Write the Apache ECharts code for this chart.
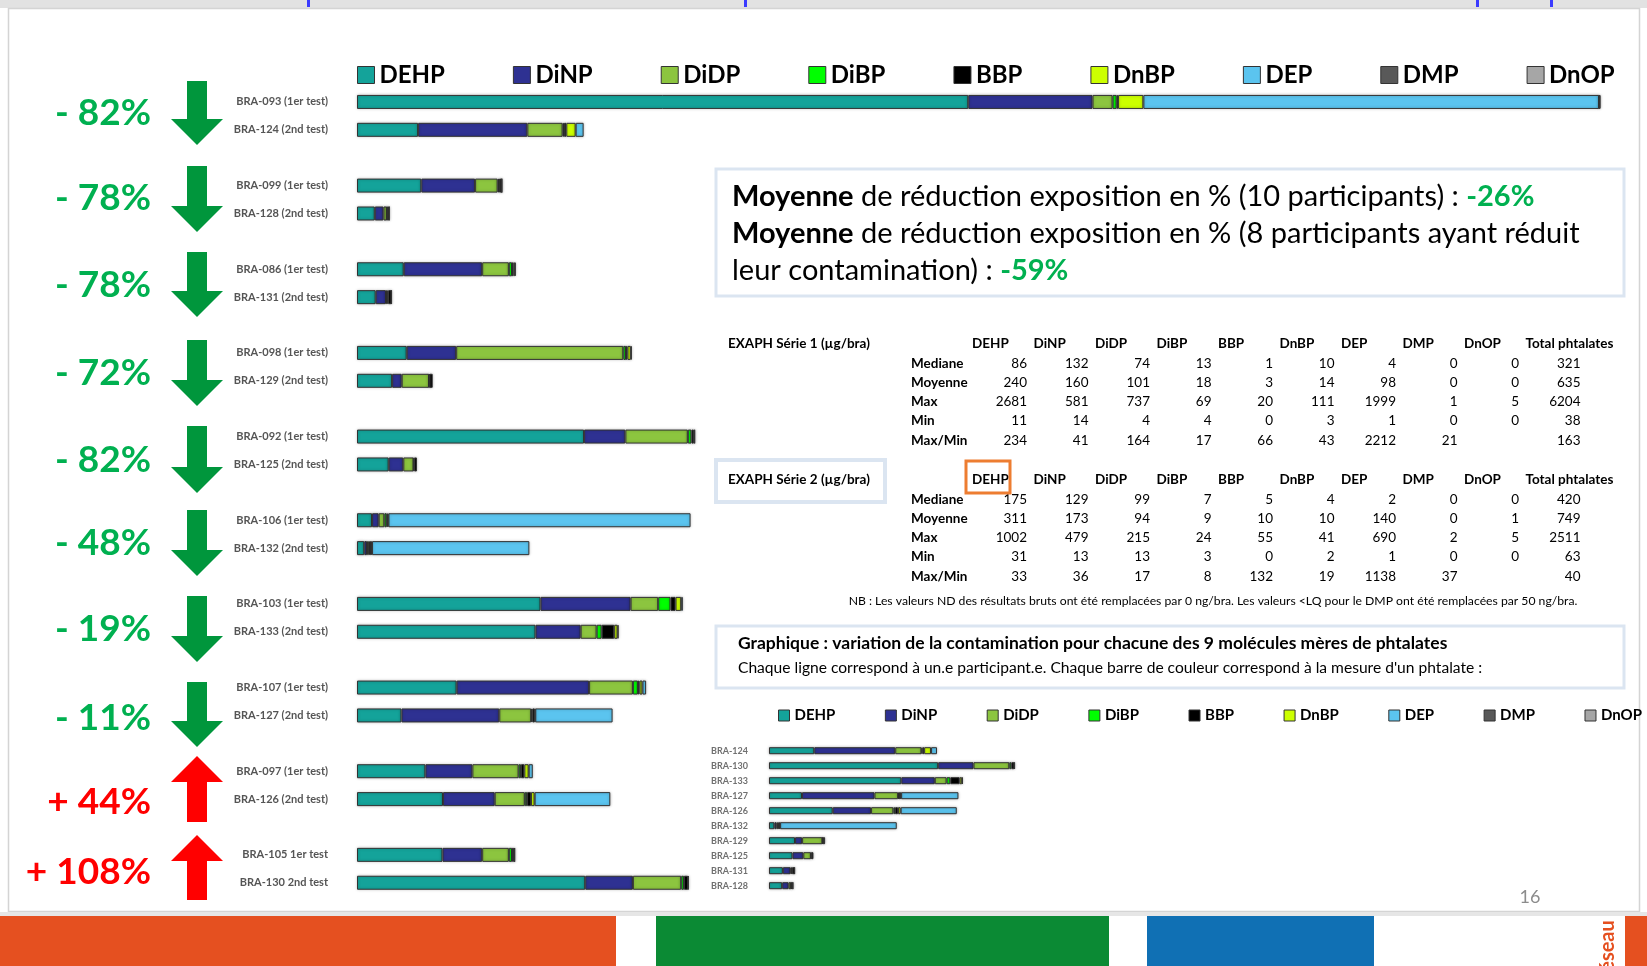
<!DOCTYPE html>
<html>
<head>
<meta charset="utf-8">
<script src="https://cdn.jsdelivr.net/npm/echarts@6/dist/echarts.min.js"></script>
<style>
  html, body { margin: 0; padding: 0; background: #ffffff; }
  #chart { width: 1647px; height: 966px; }
</style>
</head>
<body>
<div id="chart"></div>
<script>
// ---- Phthalates measured on each bracelet (µg/bra) ----
const PHTHALATES = ['DEHP', 'DiNP', 'DiDP', 'DiBP', 'BBP', 'DnBP', 'DEP', 'DMP', 'DnOP'];

// participants: first and second bracelet test, same order
const firstTestIds  = ['BRA-093 (1er test)', 'BRA-099 (1er test)', 'BRA-086 (1er test)', 'BRA-098 (1er test)', 'BRA-092 (1er test)',
                       'BRA-106 (1er test)', 'BRA-103 (1er test)', 'BRA-107 (1er test)', 'BRA-097 (1er test)', 'BRA-105 1er test'];
const secondTestIds = ['BRA-124 (2nd test)', 'BRA-128 (2nd test)', 'BRA-131 (2nd test)', 'BRA-129 (2nd test)', 'BRA-125 (2nd test)',
                       'BRA-132 (2nd test)', 'BRA-133 (2nd test)', 'BRA-127 (2nd test)', 'BRA-126 (2nd test)', 'BRA-130 2nd test'];
const changeLabels  = ['- 82%', '- 78%', '- 78%', '- 72%', '- 82%', '- 48%', '- 19%', '- 11%', '+ 44%', '+ 108%'];

// first test
const DEHP_1 = [2681, 282, 205, 218, 996, 66, 805, 437, 300, 375];
const DiNP_1 = [545, 236, 344, 217, 181, 29, 395, 581, 206, 174];
const DiDP_1 = [88, 99, 117, 733, 274, 25, 121, 192, 203, 117];
const DiBP_1 = [18, 6, 14, 12, 16, 10, 54, 22, 10, 14];
const BBP_1  = [6, 10, 6, 6, 10, 4, 22, 7, 15, 8];
const DnBP_1 = [111, 2, 6, 15, 3, 4, 25, 13, 19, 3];
const DEP_1  = [1999, 1, 4, 4, 2, 1325, 7, 16, 18, 1];
const DMP_1  = [1, 0, 0, 0, 0, 0, 0, 0, 0, 0];
const DnOP_1 = [5, 0, 0, 0, 0, 0, 0, 0, 0, 0];

// second test
const DEHP_2 = [268, 78, 82, 154, 139, 32, 783, 195, 377, 1001];
const DiNP_2 = [479, 38, 45, 42, 64, 12, 198, 429, 227, 209];
const DiDP_2 = [155, 15, 6, 120, 45, 8, 70, 140, 132, 212];
const DiBP_2 = [6, 2, 4, 2, 3, 5, 22, 5, 10, 12];
const BBP_2  = [10, 8, 14, 14, 12, 6, 55, 10, 17, 18];
const DnBP_2 = [41, 1, 1, 0, 0, 3, 15, 3, 16, 0];
const DEP_2  = [35, 0, 0, 0, 0, 690, 4, 339, 332, 0];
const DMP_2  = [0, 0, 0, 0, 0, 0, 0, 0, 0, 2];
const DnOP_2 = [0, 0, 0, 0, 0, 0, 0, 0, 0, 0];

// second-test participants, ranked as in the small chart
const rankedIds = ['BRA-124', 'BRA-130', 'BRA-133', 'BRA-127', 'BRA-126', 'BRA-132', 'BRA-129', 'BRA-125', 'BRA-131', 'BRA-128'];

// summary tables
const tableCols = ['DEHP', 'DiNP', 'DiDP', 'DiBP', 'BBP', 'DnBP', 'DEP', 'DMP', 'DnOP', 'Total phtalates'];
const tableRows = ['Mediane', 'Moyenne', 'Max', 'Min', 'Max/Min'];
const serie1Mediane = [86, 132, 74, 13, 1, 10, 4, 0, 0, 321];
const serie1Moyenne = [240, 160, 101, 18, 3, 14, 98, 0, 0, 635];
const serie1Max     = [2681, 581, 737, 69, 20, 111, 1999, 1, 5, 6204];
const serie1Min     = [11, 14, 4, 4, 0, 3, 1, 0, 0, 38];
const serie1MaxMin  = [234, 41, 164, 17, 66, 43, 2212, 21, '', 163];
const serie2Mediane = [175, 129, 99, 7, 5, 4, 2, 0, 0, 420];
const serie2Moyenne = [311, 173, 94, 9, 10, 10, 140, 0, 1, 749];
const serie2Max     = [1002, 479, 215, 24, 55, 41, 690, 2, 5, 2511];
const serie2Min     = [31, 13, 13, 3, 0, 2, 1, 0, 0, 63];
const serie2MaxMin  = [33, 36, 17, 8, 132, 19, 1138, 37, '', 40];

// ---- styling ----
const COLORS = {
  DEHP: '#14A39A', DiNP: '#2E3192', DiDP: '#8CC53F', DiBP: '#00FF00', BBP: '#000000',
  DnBP: '#CCFF00', DEP: '#5BC4EF', DMP: '#595959', DnOP: '#A6A6A6'
};
const FONT = 'Lato, "Open Sans", "DejaVu Sans", sans-serif';
const GREEN = '#00B050';
const RED = '#FF0000';
const ARROW_GREEN = '#00963C';

const FIRST  = { DEHP: DEHP_1, DiNP: DiNP_1, DiDP: DiDP_1, DiBP: DiBP_1, BBP: BBP_1, DnBP: DnBP_1, DEP: DEP_1, DMP: DMP_1, DnOP: DnOP_1 };
const SECOND = { DEHP: DEHP_2, DiNP: DiNP_2, DiDP: DiDP_2, DiBP: DiBP_2, BBP: BBP_2, DnBP: DnBP_2, DEP: DEP_2, DMP: DMP_2, DnOP: DnOP_2 };

// left chart categories: pairs of tests with an empty slot between pairs
const leftCats = [];
const leftRefs = [];
firstTestIds.forEach((id, i) => {
  leftCats.push(id); leftRefs.push({ set: FIRST, i });
  leftCats.push(secondTestIds[i]); leftRefs.push({ set: SECOND, i });
  if (i < firstTestIds.length - 1) { leftCats.push(''); leftRefs.push(null); }
});
const rankedRefs = rankedIds.map(id => secondTestIds.findIndex(s => s.indexOf(id) === 0));

const show = v => (v === 0 ? '-' : v);

const series = [];
PHTHALATES.forEach(p => {
  const itemStyle = { color: COLORS[p], borderColor: '#333333', borderWidth: 1,
                      shadowColor: 'rgba(0,0,0,0.28)', shadowBlur: 3 };
  series.push({
    type: 'bar', name: p, stack: 'tests', xAxisIndex: 0, yAxisIndex: 0, barWidth: 14,
    itemStyle, emphasis: { disabled: true },
    data: leftRefs.map(r => (r ? show(r.set[p][r.i]) : '-'))
  });
  series.push({
    type: 'bar', name: p, stack: 'ranked', xAxisIndex: 1, yAxisIndex: 1, barWidth: 7,
    itemStyle, emphasis: { disabled: true },
    data: rankedRefs.map(i => show(SECOND[p][i]))
  });
});

// ---- decoration and text ----
const g = [];
const txt = (x, y, text, o = {}) => g.push({
  type: 'text', x, y, silent: true,
  style: Object.assign({
    text, fill: '#000', fontFamily: FONT, fontSize: 14, fontWeight: 'normal',
    align: 'left', textAlign: 'left', verticalAlign: 'middle', textVerticalAlign: 'middle'
  }, o)
});
const rect = (x, y, w, h, style) => g.push({ type: 'rect', silent: true, shape: { x, y, width: w, height: h }, style });

// slide frame, header strip and footer bands
rect(0, 0, 1647, 8, { fill: '#e2e2e2' });
[[307, 3], [744, 3], [1476, 3], [1550, 3]].forEach(([x, w]) => rect(x, 0, w, 7, { fill: '#3b3bff' }));
rect(8.5, 8.5, 1631, 903, { fill: 'none', stroke: '#d4d4d4', lineWidth: 1.5 });
rect(0, 912, 1647, 4, { fill: '#e6e6e6' });
rect(0, 916, 616, 50, { fill: '#E55020' });
rect(656, 916, 453, 50, { fill: '#0B8A34' });
rect(1147, 916, 227, 50, { fill: '#1070B4' });
rect(1625, 916, 22, 50, { fill: '#E55020' });
g.push({ type: 'text', x: 1608, y: 946, rotation: Math.PI / 2, silent: true,
  style: { text: 'éseau', fill: '#E55020', fontFamily: FONT, fontSize: 20, fontWeight: 'bold',
           align: 'center', textAlign: 'center', verticalAlign: 'middle', textVerticalAlign: 'middle' } });
txt(1530, 897, '16', { fill: '#8c8c8c', fontSize: 18, align: 'center', textAlign: 'center' });

// change labels and arrows beside each pair
const changeY = [113, 198, 285, 373, 460, 543, 629, 718, 802, 872];
const arrowSpan = [[81, 145], [166, 232], [252, 317], [340, 406], [426, 493], [510, 576], [596, 662], [682, 747], [756, 822], [835, 900]];
const ARROW_X = 197;
changeLabels.forEach((lab, i) => {
  const up = lab.charAt(0) === '+';
  txt(151, changeY[i], lab, { fill: up ? RED : GREEN, fontSize: 37, fontWeight: 'bold', align: 'right', textAlign: 'right' });
  const [t, b] = arrowSpan[i];
  const cx = ARROW_X, sw = 10, hw = 26, hh = 26;
  const pts = up
    ? [[cx, t], [cx + hw, t + hh], [cx + sw, t + hh], [cx + sw, b], [cx - sw, b], [cx - sw, t + hh], [cx - hw, t + hh]]
    : [[cx - sw, t], [cx + sw, t], [cx + sw, b - hh], [cx + hw, b - hh], [cx, b], [cx - hw, b - hh], [cx - sw, b - hh]];
  g.push({ type: 'polygon', silent: true, shape: { points: pts }, style: { fill: up ? RED : ARROW_GREEN } });
});

// average reduction box
rect(716, 169, 908, 127, { fill: '#ffffff', stroke: '#dbe5f1', lineWidth: 3 });
const MEAN_SIZE = 29;
const richMean = { b: { fontWeight: 'bold', fontSize: MEAN_SIZE, fontFamily: FONT, fill: '#000' },
                   g: { fontWeight: 'bold', fontSize: MEAN_SIZE, fontFamily: FONT, fill: GREEN } };
txt(732, 197, '{b|Moyenne} de réduction exposition en % (10 participants) : {g|-26%}', { fontSize: MEAN_SIZE, rich: richMean });
txt(732, 234, '{b|Moyenne} de réduction exposition en % (8 participants ayant réduit', { fontSize: MEAN_SIZE, rich: richMean });
txt(732, 271, 'leur contamination) : {g|-59%}', { fontSize: MEAN_SIZE, rich: richMean });

// summary tables
const COL_RIGHT0 = 1027, COL_STEP = 61.5, ROW_X = 911, ROW_STEP = 19.2;
function drawTable(title, headerY, rows) {
  txt(728, headerY, title, { fontWeight: 'bold', fontSize: 13.5 });
  tableCols.forEach((c, j) => txt(COL_RIGHT0 + j * COL_STEP - 55, headerY, c, { fontWeight: 'bold', fontSize: 13.5 }));
  rows.forEach((vals, r) => {
    const y = headerY + 20 + r * ROW_STEP;
    txt(ROW_X, y, tableRows[r], { fontWeight: 'bold', fontSize: 13.5 });
    vals.forEach((v, j) => txt(COL_RIGHT0 + j * COL_STEP, y, String(v), { fontSize: 13.5, align: 'right', textAlign: 'right' }));
  });
}
drawTable('EXAPH Série 1 (µg/bra)', 343.5, [serie1Mediane, serie1Moyenne, serie1Max, serie1Min, serie1MaxMin]);
rect(716, 460, 169, 42, { fill: 'none', stroke: '#dbe5f1', lineWidth: 4 });
drawTable('EXAPH Série 2 (µg/bra)', 479.5, [serie2Mediane, serie2Moyenne, serie2Max, serie2Min, serie2MaxMin]);
rect(966, 461, 44, 32, { fill: 'none', stroke: '#ED7D31', lineWidth: 3 });
txt(1213, 601, 'NB : Les valeurs ND des résultats bruts ont été remplacées par 0 ng/bra. Les valeurs <LQ pour le DMP ont été remplacées par 50 ng/bra.',
    { fontSize: 12.2, align: 'center', textAlign: 'center' });

// caption box of the small chart
rect(716, 626, 908, 62, { fill: '#ffffff', stroke: '#dbe5f1', lineWidth: 3 });
txt(738, 643.5, 'Graphique : variation de la contamination pour chacune des 9 molécules mères de phtalates', { fontWeight: 'bold', fontSize: 17.5 });
txt(738, 667.5, "Chaque ligne correspond à un.e participant.e. Chaque barre de couleur correspond à la mesure d'un phtalate :", { fontSize: 15.6 });

const chart = echarts.init(document.getElementById('chart'), null, { renderer: 'canvas' });
chart.setOption({
  animation: false,
  backgroundColor: '#ffffff',
  legend: [
    {
      data: PHTHALATES, left: 357, top: 63, padding: 0, itemGap: 68, itemWidth: 17, itemHeight: 17,
      icon: 'rect', selectedMode: false,
      itemStyle: { borderColor: '#333', borderWidth: 1 },
      textStyle: { fontFamily: FONT, fontSize: 24, fontWeight: 'bold', color: '#000' }
    },
    {
      data: PHTHALATES, left: 778, top: 708, padding: 0, itemGap: 49.5, itemWidth: 11, itemHeight: 11,
      icon: 'rect', selectedMode: false,
      itemStyle: { borderColor: '#333', borderWidth: 1 },
      textStyle: { fontFamily: FONT, fontSize: 15, fontWeight: 'bold', color: '#000' }
    }
  ],
  grid: [
    { left: 357, top: 88, width: 1254, height: 808.7 },
    { left: 769, top: 743.2, width: 338, height: 150 }
  ],
  xAxis: [
    { type: 'value', gridIndex: 0, min: 0, max: 5500, show: false },
    { type: 'value', gridIndex: 1, min: 0, max: 2000, show: false }
  ],
  yAxis: [
    {
      type: 'category', gridIndex: 0, data: leftCats, inverse: true,
      axisLine: { show: false }, axisTick: { show: false }, splitLine: { show: false },
      axisLabel: { interval: 0, margin: 29, fontFamily: FONT, fontSize: 11, fontWeight: 'bold', color: '#555555' }
    },
    {
      type: 'category', gridIndex: 1, data: rankedIds, inverse: true,
      axisLine: { show: false }, axisTick: { show: false }, splitLine: { show: false },
      axisLabel: { interval: 0, margin: 21, fontFamily: FONT, fontSize: 9, fontWeight: 'bold', color: '#707070' }
    }
  ],
  series,
  graphic: { elements: g }
});
</script>
</body>
</html>
